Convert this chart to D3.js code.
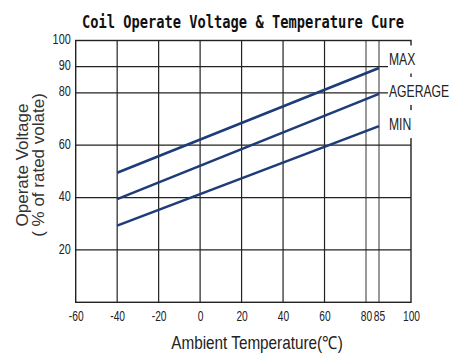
<!DOCTYPE html>
<html>
<head>
<meta charset="utf-8">
<script src="https://cdn.jsdelivr.net/npm/d3@7"></script>
<style>
  body { margin: 0; background: #fff; }
  svg { display: block; }
  .tick text { font-family: "Liberation Sans", Arial, sans-serif; font-size: 15.5px; fill: #222; }
</style>
</head>
<body>
<svg width="458" height="355"></svg>
<script>
// chart values
var temps = [-40, 85];
var maxVolt = [49.5, 89.5];
var avgVolt = [39.4, 79.6];
var minVolt = [29.3, 67.3];
var seriesNames = ["MAX", "AGERAGE", "MIN"];

var xTicks = [-60, -40, -20, 0, 20, 40, 60, 80, 85, 100];
var yTicks = [20, 40, 60, 80, 90, 100];
var xGrid = [-40, -20, 0, 20, 40, 60, 80, 85];
var yGrid = [20, 40, 60, 80, 90];

var svg = d3.select("svg");

// the original axis is not uniform near 80/85, so piecewise scale
var x = d3.scaleLinear()
    .domain([-60, 80, 85, 100])
    .range([75.7, 366, 379, 411]);

var y = d3.scaleLinear()
    .domain([0, 100])
    .range([302.3, 40.5]);

var lineColor = "#1d3c78";
var gridColor = "#222";

// the reference uses a narrow font: squeeze the installed one horizontally
// (text must sit at x=0 of its parent for this)
function squeeze(sel, k) {
  sel.attr("transform", "scale(" + k + ",1)");
}

// title
var title = svg.append("g")
    .attr("transform", "translate(243,28)")
  .append("text")
    .attr("text-anchor", "middle")
    .attr("font-family", "'DejaVu Sans Mono', monospace")
    .attr("font-weight", "bold")
    .attr("font-size", 17)
    .attr("fill", "#111")
    .text("Coil Operate Voltage & Temperature Cure");
squeeze(title, 0.807);

var grid = svg.append("g").attr("class", "grid");

// vertical grid
grid.selectAll("line.v")
    .data(xGrid)
    .enter().append("line")
    .attr("class", "v")
    .attr("x1", function(d) { return x(d); })
    .attr("x2", function(d) { return x(d); })
    .attr("y1", y(100))
    .attr("y2", y(0))
    .attr("stroke", function(d) { return d >= 80 ? "#555" : gridColor; })
    .attr("stroke-width", 1.2);

// horizontal grid (80 / 90 stop at the labels)
grid.selectAll("line.h")
    .data(yGrid)
    .enter().append("line")
    .attr("class", "h")
    .attr("x1", x(-60))
    .attr("x2", function(d) { return d >= 80 ? 388 : x(100); })
    .attr("y1", function(d) { return y(d); })
    .attr("y2", function(d) { return y(d); })
    .attr("stroke", gridColor)
    .attr("stroke-width", 1.2);

// frame
svg.append("rect")
    .attr("x", x(-60))
    .attr("y", y(100))
    .attr("width", x(100) - x(-60))
    .attr("height", y(0) - y(100))
    .attr("fill", "none")
    .attr("stroke", gridColor)
    .attr("stroke-width", 1.4);

// axes (labels only)
var xAxis = svg.append("g")
    .attr("transform", "translate(0," + y(0) + ")")
    .call(d3.axisBottom(x).tickValues(xTicks).tickSize(0).tickPadding(8)
      .tickFormat(function(d) { return String(d); }));
xAxis.select(".domain").remove();
squeeze(xAxis.selectAll(".tick text"), 0.66);

var yAxis = svg.append("g")
    .attr("transform", "translate(" + (x(-60) - 5) + ",0)")
    .call(d3.axisLeft(y).tickValues(yTicks).tickSize(0).tickPadding(0)
      .tickFormat(function(d) { return String(d); }));
yAxis.select(".domain").remove();
yAxis.selectAll(".tick text").attr("x", 0).attr("dy", "0.2em");
squeeze(yAxis.selectAll(".tick text"), 0.7);

// series
var series = [maxVolt, avgVolt, minVolt];
var line = d3.line()
    .x(function(d, i) { return x(temps[i]); })
    .y(function(d) { return y(d); });

svg.append("g")
    .selectAll("path")
    .data(series)
    .enter().append("path")
    .attr("d", line)
    .attr("fill", "none")
    .attr("stroke", lineColor)
    .attr("stroke-width", 2.6);

// series labels, with white box that covers the right border
var labelOffset = [-8.5, -3, -2];
var labels = svg.append("g")
    .selectAll("g")
    .data(seriesNames)
    .enter().append("g")
    .attr("transform", function(d, i) {
      var last = series[i][series[i].length - 1];
      return "translate(389," + (y(last) + labelOffset[i]) + ")";
    });

labels.append("rect")
    .attr("x", -1)
    .attr("y", -14)
    .attr("width", 64)
    .attr("height", 28)
    .attr("fill", "#fff");

var labelText = labels.append("text")
    .attr("dy", "0.36em")
    .attr("font-family", "'Liberation Sans', Arial, sans-serif")
    .attr("font-size", 16)
    .attr("fill", "#222")
    .text(function(d) { return d; });
squeeze(labelText, 0.76);

// axis titles
var xTitle = svg.append("g")
    .attr("transform", "translate(257,349)")
  .append("text")
    .attr("text-anchor", "middle")
    .attr("font-family", "'Liberation Sans', Arial, sans-serif")
    .attr("font-size", 18)
    .attr("fill", "#222")
    .text("Ambient Temperature(\u2103)");
squeeze(xTitle, 0.85);

var yTitle = svg.append("text")
    .attr("transform", "translate(30,165) rotate(-90)")
    .attr("text-anchor", "middle")
    .attr("font-family", "'Liberation Sans', Arial, sans-serif")
    .attr("font-size", 17)
    .attr("fill", "#333");
yTitle.append("tspan").attr("x", 0).attr("y", -2).text("Operate Voltage");
yTitle.append("tspan").attr("x", 0).attr("y", 14).text("( % of rated volate)");
</script>
</body>
</html>
